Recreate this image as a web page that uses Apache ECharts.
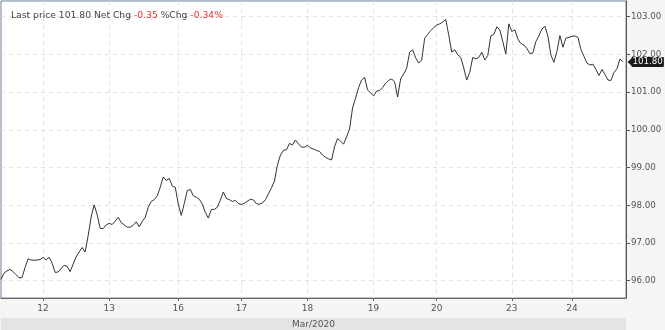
<!DOCTYPE html>
<html><head><meta charset="utf-8">
<script src="https://cdn.jsdelivr.net/npm/echarts@6/dist/echarts.min.js"></script>
<style>html,body{margin:0;padding:0;background:#f5f5f5}#c{width:665px;height:330px}</style>
</head><body><div id="c"></div>
<script>
var dayLabels = ['12','13','16','17','18','19','20','23','24'];
var dayIdx = [14,36,59,80,102,124,145,170,190];
var yTicks = [96,97,98,99,100,101,102,103];
var lastPrice = 101.80;
var prices = [
96.03,96.20,96.26,96.30,96.24,96.16,96.08,96.08,96.35,96.58,
96.55,96.54,96.55,96.56,96.62,96.55,96.62,96.47,96.22,96.23,
96.32,96.41,96.38,96.24,96.44,96.63,96.76,96.88,96.76,97.19,
97.69,98.01,97.75,97.39,97.38,97.48,97.52,97.49,97.58,97.68,
97.54,97.48,97.42,97.42,97.47,97.56,97.43,97.57,97.68,97.95,
98.10,98.15,98.25,98.48,98.75,98.66,98.71,98.51,98.48,98.03,
97.73,98.05,98.39,98.42,98.25,98.21,98.16,98.03,97.81,97.66,
97.89,97.89,97.95,98.14,98.35,98.18,98.15,98.10,98.13,98.05,
98.02,98.05,98.11,98.16,98.14,98.04,98.03,98.06,98.15,98.30,
98.46,98.64,99.07,99.33,99.46,99.47,99.64,99.60,99.73,99.63,
99.54,99.54,99.59,99.52,99.49,99.45,99.43,99.33,99.27,99.23,
99.20,99.55,99.77,99.70,99.62,99.81,100.02,100.58,100.84,101.12,
101.32,101.39,101.06,100.98,100.90,101.03,101.04,101.12,101.24,101.31,
101.35,101.27,100.87,101.35,101.48,101.63,102.06,102.12,101.91,101.77,
101.85,102.43,102.53,102.63,102.71,102.78,102.81,102.86,102.93,102.52,
102.06,102.12,101.99,101.92,101.64,101.32,101.53,101.92,101.88,101.92,
102.06,101.85,101.97,102.49,102.53,102.73,102.65,102.34,102.01,102.81,
102.61,102.65,102.41,102.29,102.25,102.16,102.02,102.04,102.34,102.49,
102.67,102.75,102.49,101.99,101.79,102.07,102.50,102.19,102.43,102.45,
102.48,102.49,102.45,102.13,101.95,101.77,101.72,101.74,101.60,101.44,
101.60,101.47,101.32,101.31,101.52,101.62,101.88,101.80
];
var nCats = 209;
var categories = [];
for (var i = 0; i < nCats; i++) {
  var k = dayIdx.indexOf(i);
  categories.push(k >= 0 ? dayLabels[k] : '');
}
function isDay(i) { return dayIdx.indexOf(i) >= 0; }

var chart = echarts.init(document.getElementById('c'), null, {renderer: 'canvas'});
chart.setOption({
  animation: false,
  backgroundColor: '#f5f5f5',
  textStyle: {fontFamily: 'DejaVu Sans'},
  title: {
    left: 6, top: 6,
    text: 'Last price 101.80 Net Chg {r|-0.35} %Chg {r|-0.34%}',
    textStyle: {fontSize: 9.2, fontWeight: 'normal', color: '#444', fontFamily: 'DejaVu Sans',
      rich: {r: {fontSize: 9.2, color: '#e8312c', fontFamily: 'DejaVu Sans'}}}
  },
  grid: {left: 1, right: 39, top: 1, bottom: 32, show: true, backgroundColor: '#ffffff',
         borderColor: '#6f849e', borderWidth: 1, containLabel: false, outerBoundsMode: 'none'},
  xAxis: {
    type: 'category', data: categories, boundaryGap: false,
    axisLine: {show: true, lineStyle: {color: '#666', width: 1}},
    axisTick: {show: true, length: 3, interval: function (i) { return isDay(i); }, lineStyle: {color: '#666'}},
    axisLabel: {interval: function (i) { return isDay(i); }, color: '#555', fontSize: 9, margin: 6, fontFamily: 'DejaVu Sans'},
    splitLine: {show: true, interval: function (i) { return isDay(i); }, lineStyle: {color: '#e2e2e2', type: [4, 4]}},
    name: '{band|Mar/2020}', nameLocation: 'middle', nameGap: 19,
    nameTextStyle: {fontSize: 9, color: '#555', fontFamily: 'DejaVu Sans', verticalAlign: 'top',
      rich: {band: {fontSize: 9, color: '#555', fontFamily: 'DejaVu Sans', backgroundColor: '#e4e4e4',
        width: 625, height: 13, lineHeight: 13, align: 'center'}}}
  },
  yAxis: {
    type: 'value', position: 'right', min: 95.541, max: 103.416, scale: true,
    axisLine: {show: true, lineStyle: {color: '#555'}},
    axisTick: {show: true, length: 4, customValues: yTicks, lineStyle: {color: '#555'}},
    axisLabel: {customValues: yTicks, color: '#555', fontSize: 8.7, margin: 5, fontFamily: 'DejaVu Sans',
      formatter: function (v) { return v.toFixed(2); }},
    splitLine: {show: true, lineStyle: {color: '#e2e2e2', type: [4, 4]}}
  },
  series: [{
    type: 'line', data: prices, showSymbol: false, symbol: 'none',
    lineStyle: {color: '#333333', width: 1},
    markLine: {
      silent: true, symbol: ['none', 'none'],
      lineStyle: {color: 'rgba(0,0,0,0)', width: 0, type: 'solid'},
      data: [{yAxis: lastPrice}],
      label: {show: true, position: 'end', distance: 5.5, formatter: function () { return lastPrice.toFixed(2); },
        color: '#fff', backgroundColor: '#1a1a1a', fontSize: 8.7, padding: [1, 1, 0, 1], borderRadius: 1,
        fontFamily: 'DejaVu Sans'}
    },
    markPoint: {
      silent: true,
      symbol: 'triangle', symbolSize: [9, 5], symbolRotate: 90, symbolOffset: [4, 0],
      itemStyle: {color: '#1a1a1a'},
      label: {show: false},
      data: [{coord: [208, lastPrice]}]
    }
  }]
});
</script></body></html>
